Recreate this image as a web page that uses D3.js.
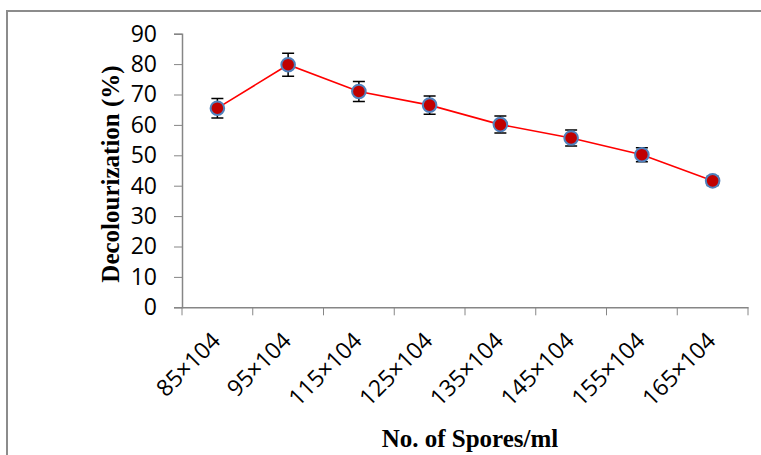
<!DOCTYPE html>
<html>
<head>
<meta charset="utf-8">
<script src="https://cdn.jsdelivr.net/npm/d3@7"></script>
<style>
  body { margin: 0; background: #fff; }
</style>
</head>
<body>
<div id="chart"></div>
<script>
// values
var categories = ["85×104", "95×104", "115×104", "125×104", "135×104", "145×104", "155×104", "165×104"];
var decolour = [65.5, 79.8, 71.0, 66.5, 60.1, 55.7, 50.2, 41.6];
var errors = [3.2, 3.8, 3.3, 3.0, 2.8, 2.6, 2.3, 1.5];
var yTicks = [0, 10, 20, 30, 40, 50, 60, 70, 80, 90];

var width = 761, height = 455;
var plotL = 182, plotR = 748, plotT = 33.7, plotB = 307.3;

var svg = d3.select("#chart").append("svg")
  .attr("width", width)
  .attr("height", height);

// frame (only left & top edges visible)
svg.append("path")
  .attr("d", "M7,455 L7,11 L761,11")
  .attr("fill", "none")
  .attr("stroke", "#8c8c8c")
  .attr("stroke-width", 2);

var x = d3.scaleBand().domain(categories).range([plotL, plotR]);
var y = d3.scaleLinear().domain([0, 90]).range([plotB, plotT]);

var yAxis = svg.append("g")
  .attr("transform", "translate(" + plotL + ",0)")
  .call(d3.axisLeft(y).tickValues(yTicks).tickSize(8).tickPadding(17));

var xAxis = svg.append("g")
  .attr("transform", "translate(0," + plotB + ")")
  .call(d3.axisBottom(x).tickSize(0).tickFormat(""));

// category boundary ticks like excel
xAxis.selectAll(".bound")
  .data(d3.range(categories.length + 1))
  .enter().append("line")
  .attr("class", "bound")
  .attr("x1", function(i) { return plotL + i * x.step(); })
  .attr("x2", function(i) { return plotL + i * x.step(); })
  .attr("y1", 0).attr("y2", 8)
  .attr("stroke", "#868686");

svg.selectAll(".domain").attr("stroke", "#868686").attr("stroke-width", 1.5);
yAxis.selectAll(".tick line").attr("stroke", "#868686");
yAxis.selectAll("text")
  .attr("font-family", "'Open Sans', sans-serif")
  .attr("font-size", 23)
  .attr("fill", "#000");

// rotated category labels
svg.selectAll(".xlab")
  .data(categories)
  .enter().append("text")
  .attr("class", "xlab")
  .attr("transform", function(d) {
    return "translate(" + (x(d) + x.bandwidth() / 2 + 4.5) + "," + (plotB + 35) + ") rotate(-45)";
  })
  .attr("text-anchor", "end")
  .attr("font-family", "'Open Sans', sans-serif")
  .attr("font-size", 23)
  .text(function(d) { return d; });

var cx = function(d, i) { return x(categories[i]) + x.bandwidth() / 2; };

// line
var line = d3.line()
  .x(function(d, i) { return cx(d, i); })
  .y(function(d) { return y(d); });

svg.append("path")
  .datum(decolour)
  .attr("d", line)
  .attr("fill", "none")
  .attr("stroke", "#ff0000")
  .attr("stroke-width", 1.6);

// error bars
var eb = svg.selectAll(".err")
  .data(decolour)
  .enter().append("g")
  .attr("class", "err");

eb.append("path")
  .attr("d", function(d, i) {
    var xx = cx(d, i), y1 = y(d + errors[i]), y2 = y(d - errors[i]);
    return "M" + xx + "," + y1 + "L" + xx + "," + y2 +
      "M" + (xx - 6) + "," + y1 + "L" + (xx + 6) + "," + y1 +
      "M" + (xx - 6) + "," + y2 + "L" + (xx + 6) + "," + y2;
  })
  .attr("stroke", "#000")
  .attr("stroke-width", 1.5)
  .attr("fill", "none");

// markers
svg.selectAll(".pt")
  .data(decolour)
  .enter().append("circle")
  .attr("class", "pt")
  .attr("cx", cx)
  .attr("cy", function(d) { return y(d); })
  .attr("r", 6.8)
  .attr("fill", "#c00000")
  .attr("stroke", "#4f81bd")
  .attr("stroke-width", 2);

// axis titles
svg.append("text")
  .attr("x", 470)
  .attr("y", 447)
  .attr("text-anchor", "middle")
  .attr("font-family", "'Liberation Serif', 'Times New Roman', serif")
  .attr("font-weight", "bold")
  .attr("font-size", 25)
  .text("No. of Spores/ml");

svg.append("text")
  .attr("transform", "translate(119,174) rotate(-90)")
  .attr("text-anchor", "middle")
  .attr("font-family", "'Liberation Serif', 'Times New Roman', serif")
  .attr("font-weight", "bold")
  .attr("font-size", 25)
  .text("Decolourization (%)");
</script>
</body>
</html>
